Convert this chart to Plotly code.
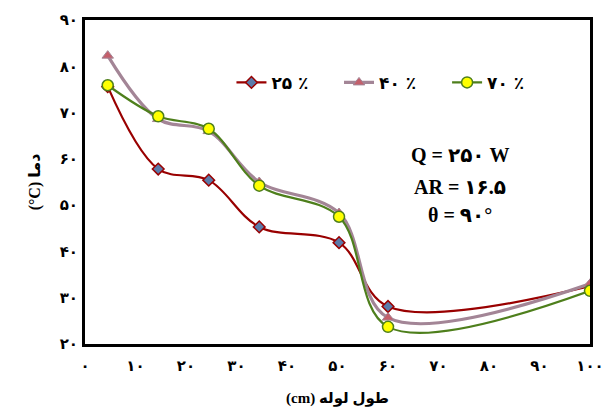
import plotly.graph_objects as go

# pipe length (cm) and wall temperature (C)
x_pos = [4.5, 14.5, 24.5, 34.5, 50.3, 60.0, 100.0]
temp_25 = [75.6, 57.8, 55.4, 45.3, 41.9, 28.1, 32.5]
temp_40 = [82.3, 68.6, 66.0, 55.0, 48.3, 25.7, 33.0]
temp_70 = [75.9, 69.2, 66.5, 54.2, 47.5, 23.7, 31.5]

series_names = ["۲۵ ٪", "۴۰ ٪", "۷۰ ٪"]

x_ticks = [0, 10, 20, 30, 40, 50, 60, 70, 80, 90, 100]
x_labels = ["۰", "۱۰", "۲۰", "۳۰", "۴۰", "۵۰", "۶۰", "۷۰", "۸۰", "۹۰", "۱۰۰"]
y_ticks = [20, 30, 40, 50, 60, 70, 80, 90]
y_labels = ["۲۰", "۳۰", "۴۰", "۵۰", "۶۰", "۷۰", "۸۰", "۹۰"]

FONT = "Liberation Serif, DejaVu Sans, serif"
DIGITS = "DejaVu Sans, sans-serif"

fig = go.Figure()

fig.add_trace(go.Scatter(
    x=x_pos, y=temp_25, name="<b>" + series_names[0] + "</b>", mode="lines+markers",
    legend="legend",
    line=dict(color="#990000", width=2.2, shape="spline", smoothing=1),
    marker=dict(symbol="diamond", size=9, color="#5B7BAA",
                line=dict(color="#990000", width=1.5)),
))
fig.add_trace(go.Scatter(
    x=x_pos, y=temp_40, name="<b>" + series_names[1] + "</b>", mode="lines+markers",
    legend="legend2",
    line=dict(color="#A38596", width=3.2, shape="spline", smoothing=1),
    marker=dict(symbol="triangle-up", size=10, color="#C45F6B",
                line=dict(color="#A38596", width=1)),
))
fig.add_trace(go.Scatter(
    x=x_pos, y=temp_70, name="<b>" + series_names[2] + "</b>", mode="lines+markers",
    legend="legend3",
    line=dict(color="#4E7F1C", width=2.2, shape="spline", smoothing=1),
    marker=dict(symbol="circle", size=11, color="#FFFF00",
                line=dict(color="#4E7F1C", width=1.5)),
))

# operating conditions text block
for txt, yy in [("Q = ۲۵۰ W", 0.583), ("AR = ۱۶.۵", 0.485), ("θ = ۹۰°", 0.398)]:
    fig.add_annotation(text="<b>" + txt + "</b>", xref="paper", yref="paper",
                       x=0.743, y=yy, xanchor="center", yanchor="middle", showarrow=False,
                       font=dict(family=FONT, size=20, color="black"))

leg = dict(orientation="h", y=0.806, xanchor="left", yanchor="middle",
           bgcolor="rgba(0,0,0,0)", font=dict(family=DIGITS, size=17, color="black"))

# page body has an 8 px margin on the left/top
fig.update_layout(
    width=602, height=401,
    margin=dict(l=77, r=20, t=12, b=65),
    plot_bgcolor="white", paper_bgcolor="white",
    font=dict(family=FONT, size=13, color="black"),
    showlegend=True,
    legend=dict(leg, x=0.29),
    legend2=dict(leg, x=0.503),
    legend3=dict(leg, x=0.717),
)

fig.update_xaxes(
    range=[0, 100], tickvals=x_ticks, ticktext=["<b>" + t + "</b>" for t in x_labels],
    tickfont=dict(family=DIGITS, size=15), automargin=False, ticklabeloverflow="allow",
    showgrid=False, zeroline=False, showline=True, mirror=True,
    linecolor="black", linewidth=3, ticks="", ticklabelstandoff=6,
    title=dict(text="<b>(cm) طول لوله</b>", font=dict(family=FONT, size=15), standoff=19),
)
fig.update_yaxes(
    range=[20, 90], tickvals=y_ticks, ticktext=["<b>" + t + "</b>" for t in y_labels],
    tickfont=dict(family=DIGITS, size=15), automargin=False, ticklabeloverflow="allow",
    showgrid=False, zeroline=False, showline=True, mirror=True,
    linecolor="black", linewidth=3, ticks="", ticklabelstandoff=1,
    title=dict(text="<b>(°C) دما</b>", font=dict(family=FONT, size=16), standoff=16),
)

fig.write_html("out.html")
